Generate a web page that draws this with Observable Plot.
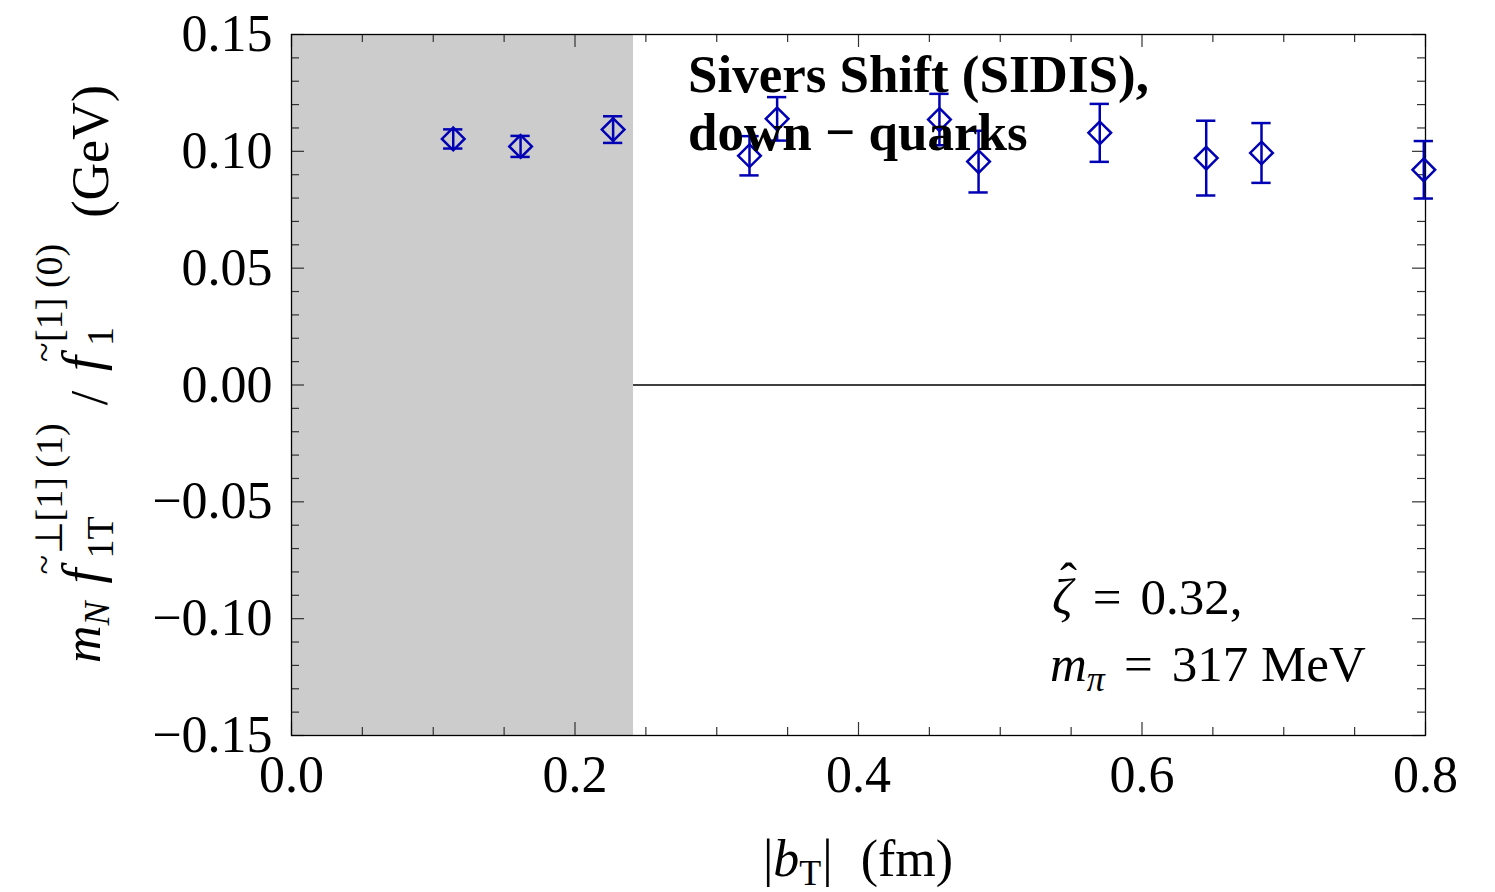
<!DOCTYPE html>
<html><head><meta charset="utf-8">
<script src="https://cdn.jsdelivr.net/npm/d3@7"></script>
<script src="https://cdn.jsdelivr.net/npm/@observablehq/plot@0.6"></script>
<style>body{margin:0;background:#fff} svg{display:block}</style>
</head><body><div id="chart"></div>
<script>
// ---- data ----
const bT    = [0.1141, 0.1616, 0.2269, 0.3231, 0.3426, 0.4571, 0.4847, 0.5702, 0.6453, 0.6843, 0.7988];
const shift = [0.1053, 0.1021, 0.1093, 0.0981, 0.1139, 0.1136, 0.0956, 0.1079, 0.0971, 0.0993, 0.0921];
const err   = [0.0041, 0.0045, 0.0057, 0.0084, 0.0093, 0.0110, 0.0132, 0.0124, 0.0160, 0.0128, 0.0123];
const excludedMax = 0.2413;
const xMajor = [0, 0.2, 0.4, 0.6, 0.8];
const xMinor = [0.05, 0.1, 0.15, 0.25, 0.3, 0.35, 0.45, 0.5, 0.55, 0.65, 0.7, 0.75];
const yMajor = [-0.15, -0.10, -0.05, 0, 0.05, 0.10, 0.15];
const yMinor = [-0.14,-0.13,-0.12,-0.11,-0.09,-0.08,-0.07,-0.06,-0.04,-0.03,-0.02,-0.01,
                 0.01,0.02,0.03,0.04,0.06,0.07,0.08,0.09,0.11,0.12,0.13,0.14];
const titleLines = ["Sivers Shift (SIDIS),", "down − quarks"];

const blue = "#0000b4";
const W = 1495, H = 892, mL = 291, mR = 70, mT = 34, mB = 157;
const fw = W - mL - mR, fh = H - mT - mB;
const serif = "'Liberation Serif', 'Times New Roman', serif";
const data = bT.map((x, i) => ({x, y: shift[i], lo: shift[i] - err[i], hi: shift[i] + err[i]}));
const capHalf = 0.0068;

const plot = Plot.plot({
  width: W, height: H, marginLeft: mL, marginRight: mR, marginTop: mT, marginBottom: mB,
  x: {domain: [0, 0.8]},
  y: {domain: [-0.15, 0.15]},
  style: {fontFamily: serif, fontSize: "52px", background: "white", color: "black"},
  marks: [
    Plot.rect([{x1: 0, x2: excludedMax}], {x1: "x1", x2: "x2", y1: -0.15, y2: 0.15, fill: "#cccccc"}),
    Plot.ruleY([0], {x1: excludedMax, x2: 0.8, stroke: "black", strokeWidth: 1.3}),
    // ticks (inward, on all four sides)
    Plot.ruleX(xMajor, {x: d => d, insetTop: fh - 13, stroke: "#333", strokeWidth: 1.2}),
    Plot.ruleX(xMinor, {x: d => d, insetTop: fh - 8, stroke: "#333", strokeWidth: 1.2}),
    Plot.ruleX(xMajor, {x: d => d, insetBottom: fh - 13, stroke: "#333", strokeWidth: 1.2}),
    Plot.ruleX(xMinor, {x: d => d, insetBottom: fh - 8, stroke: "#333", strokeWidth: 1.2}),
    Plot.ruleY(yMajor, {y: d => d, insetRight: fw - 13, stroke: "#333", strokeWidth: 1.2}),
    Plot.ruleY(yMinor, {y: d => d, insetRight: fw - 8, stroke: "#333", strokeWidth: 1.2}),
    Plot.ruleY(yMajor, {y: d => d, insetLeft: fw - 13, stroke: "#333", strokeWidth: 1.2}),
    Plot.ruleY(yMinor, {y: d => d, insetLeft: fw - 8, stroke: "#333", strokeWidth: 1.2}),
    Plot.frame({stroke: "black", strokeWidth: 1.3}),
    // error bars and points
    Plot.ruleX(data, {x: "x", y1: "lo", y2: "hi", stroke: blue, strokeWidth: 2.5}),
    Plot.ruleY(data, {y: "hi", x1: d => d.x - capHalf, x2: d => d.x + capHalf, stroke: blue, strokeWidth: 2.5}),
    Plot.ruleY(data, {y: "lo", x1: d => d.x - capHalf, x2: d => d.x + capHalf, stroke: blue, strokeWidth: 2.5}),
    Plot.dot(data, {x: "x", y: "y", symbol: "diamond2", r: 10.2, stroke: blue, strokeWidth: 2.5, fill: "none"}),
    Plot.axisX({ticks: xMajor, tickSize: 0, tickPadding: 20, tickFormat: d3.format(".1f"), label: null, fontSize: 52}),
    Plot.axisY({ticks: yMajor, tickSize: 0, tickPadding: 19, tickFormat: d3.format(".2f"), label: null, fontSize: 52})
  ]
});
document.getElementById("chart").appendChild(plot);
const svg = d3.select(plot);

// helper to lay out rich (math) text pieces
function mathText(parent, parts, anchor) {
  const g = parent.append("g");
  let cx = 0, prevStart = 0;
  for (const p of parts) {
    const start = p.atPrev ? prevStart + (p.ox || 0) : cx + (p.dx || 0);
    const t = g.append("text")
      .attr("x", start).attr("y", p.dy || 0)
      .attr("text-anchor", "start")
      .attr("fill", "black")
      .style("font-family", serif)
      .style("font-size", p.size + "px")
      .style("font-style", p.italic ? "italic" : "normal")
      .style("font-weight", p.bold ? "bold" : "normal")
      .text(p.t);
    const w = t.node().getComputedTextLength();
    if (!p.atPrev) { prevStart = start; cx = start + w; }
    else if (!p.noAdvance) { cx = Math.max(cx, start + w); }
  }
  const shiftX = anchor === "middle" ? -cx / 2 : anchor === "end" ? -cx : 0;
  g.attr("transform", `translate(${shiftX},0)`);
  return g;
}

// y-axis label
const yl = svg.append("g").attr("transform", `translate(100, 374) rotate(-90)`);
mathText(yl, [
  {t: "m", size: 52, italic: true},
  {t: "N", size: 36, italic: true, dy: 9},
  {t: "f", size: 54, italic: true, dx: 18},
  {t: "~", size: 36, atPrev: true, ox: 9, dy: -44, noAdvance: true},
  {t: "⊥[1] (1)", size: 38, dy: -38, dx: 14},
  {t: "1T", size: 38, atPrev: true, ox: -4, dy: 13},
  {t: "/", size: 52, dx: 18, dy: 7},
  {t: "f", size: 54, italic: true, dx: 20},
  {t: "~", size: 36, atPrev: true, ox: 9, dy: -44, noAdvance: true},
  {t: "[1] (0)", size: 38, dy: -38, dx: 14},
  {t: "1", size: 38, atPrev: true, ox: -4, dy: 13},
  {t: "(GeV)", size: 52, dx: 26, dy: 8}
], "middle");

// x-axis label
const xl = svg.append("g").attr("transform", `translate(858, 876)`);
mathText(xl, [
  {t: "|", size: 52},
  {t: "b", size: 52, italic: true},
  {t: "T", size: 36, dy: 9},
  {t: "|", size: 52, dx: 1},
  {t: "(fm)", size: 52, dx: 28}
], "middle");

// title
titleLines.forEach((line, i) => {
  svg.append("text").attr("x", 688).attr("y", 92 + i * 58).attr("fill", "black")
    .attr("text-anchor", "start")
    .style("font-family", serif).style("font-size", "53px").style("font-weight", "bold")
    .text(line);
});

// parameters annotation
const a1 = svg.append("g").attr("transform", `translate(1052, 614)`);
mathText(a1, [
  {t: "ζ", size: 51, italic: true},
  {t: "ˆ", size: 51, atPrev: true, ox: 8, dy: -16, noAdvance: true},
  {t: "=", size: 51, dx: 20},
  {t: "0.32,", size: 51, dx: 19}
], "start");
const a2 = svg.append("g").attr("transform", `translate(1050, 681)`);
mathText(a2, [
  {t: "m", size: 51, italic: true},
  {t: "π", size: 36, italic: true, dy: 10},
  {t: "=", size: 51, dx: 19},
  {t: "317 MeV", size: 51, dx: 19}
], "start");
</script>
</body></html>
